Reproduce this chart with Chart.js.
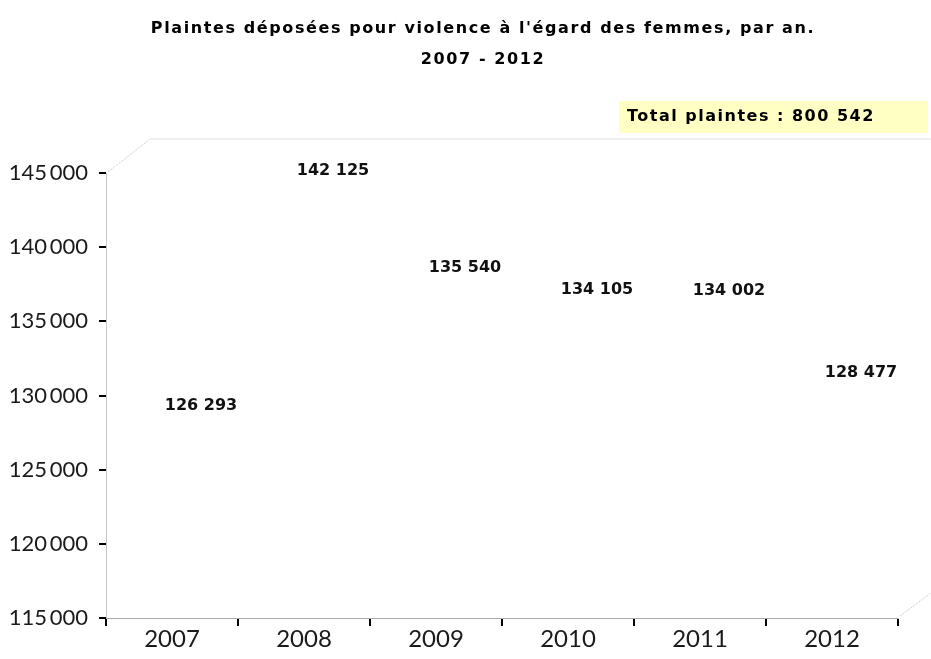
<!DOCTYPE html>
<html>
<head>
<meta charset="utf-8">
<script src="https://cdn.jsdelivr.net/npm/chart.js@4"></script>
<style>
  body { margin: 0; background: #fff; }
</style>
</head>
<body>
<canvas id="plaintesChart" width="931" height="659"></canvas>
<script>
// donnees
const years = ['2007', '2008', '2009', '2010', '2011', '2012'];
const complaints = [126293, 142125, 135540, 134105, 134002, 128477];
const yMin = 115000;
const yMax = 145000;
const yStep = 5000;
const titleLines = ["Plaintes déposées pour violence à l'égard des femmes, par an.", '2007 - 2012'];
const totalLabel = 'Total plaintes : ';

// separateur de milliers
function fmt(n, sep) {
  return String(n).replace(/\B(?=(\d{3})+(?!\d))/g, sep);
}

// titre (espacement des lettres comme l'original)
const titleBlock = {
  id: 'titleBlock',
  afterDraw(chart) {
    const ctx = chart.ctx;
    ctx.save();
    ctx.font = 'bold 16px "DejaVu Sans"';
    ctx.letterSpacing = '1.6px';
    ctx.fillStyle = '#000';
    ctx.textAlign = 'center';
    ctx.textBaseline = 'middle';
    titleLines.forEach((line, i) => {
      ctx.fillText(line, 483, 29 + i * 31);
    });
    ctx.restore();
  }
};

// etiquettes de valeur (decalees comme dans le graphe 3D d'origine)
const valueLabels = {
  id: 'valueLabels',
  afterDatasetsDraw(chart) {
    const ctx = chart.ctx;
    const meta = chart.getDatasetMeta(0);
    ctx.save();
    ctx.font = 'bold 16px "DejaVu Sans"';
    ctx.fillStyle = '#111';
    ctx.textAlign = 'center';
    ctx.textBaseline = 'middle';
    meta.data.forEach((bar, i) => {
      ctx.fillText(fmt(complaints[i], ' '), bar.x + 29, bar.y - 45);
    });
    ctx.restore();
  }
};

// cadre 3D leger + encadre du total
const frame3d = {
  id: 'frame3d',
  afterDraw(chart) {
    const ctx = chart.ctx;
    const a = chart.chartArea;
    ctx.save();
    ctx.strokeStyle = '#c0c0c0';
    ctx.lineWidth = 1;
    ctx.setLineDash([1, 1]);
    ctx.beginPath();
    ctx.moveTo(a.left + 2, a.top - 1);
    ctx.lineTo(a.left + 44, a.top - 34);
    ctx.lineTo(chart.width, a.top - 34);
    ctx.moveTo(a.right + 2, a.bottom - 2);
    ctx.lineTo(a.right + 33, a.bottom - 25);
    ctx.stroke();
    ctx.setLineDash([]);

    const total = complaints.reduce((s, v) => s + v, 0);
    ctx.fillStyle = '#ffffc4';
    ctx.fillRect(a.right - 279, a.top - 72, 309, 32);
    ctx.font = 'bold 16px "DejaVu Sans"';
    ctx.letterSpacing = '1.5px';
    ctx.fillStyle = '#000';
    ctx.textAlign = 'left';
    ctx.textBaseline = 'middle';
    ctx.fillText(totalLabel + fmt(total, ' '), a.right - 271, a.top - 56);
    ctx.restore();
  }
};

const ctx = document.getElementById('plaintesChart').getContext('2d');
const plaintesChart = new Chart(ctx, {
  type: 'bar',
  data: {
    labels: years,
    datasets: [{
      label: 'Plaintes',
      data: complaints,
      backgroundColor: 'rgba(0,0,0,0)',
      borderWidth: 0
    }]
  },
  options: {
    responsive: false,
    animation: false,
    devicePixelRatio: 1,
    layout: { padding: { left: 0, right: 33, top: 173, bottom: 0 } },
    plugins: {
      legend: { display: false },
      tooltip: { enabled: false },
      title: { display: false }
    },
    scales: {
      x: {
        afterFit: s => { s.height = 41; },
        grid: {
          offset: true,
          drawOnChartArea: false,
          tickLength: 8,
          color: '#000',
          lineWidth: 2
        },
        border: { color: '#aaa', width: 1, dash: [1, 1] },
        ticks: {
          color: '#1a1a1a',
          padding: -1,
          font: { family: 'Lato', size: 24 }
        }
      },
      y: {
        min: yMin,
        max: yMax,
        afterFit: s => { s.width = 106; },
        grid: {
          drawOnChartArea: false,
          tickLength: 7,
          color: '#000',
          lineWidth: 2
        },
        border: { color: '#c8c8c8', width: 1 },
        ticks: {
          stepSize: yStep,
          color: '#1a1a1a',
          padding: 11,
          font: { family: 'Lato', size: 22 },
          callback: v => fmt(v, '\u2009')
        }
      }
    }
  },
  plugins: [valueLabels, frame3d, titleBlock]
});
</script>
</body>
</html>
